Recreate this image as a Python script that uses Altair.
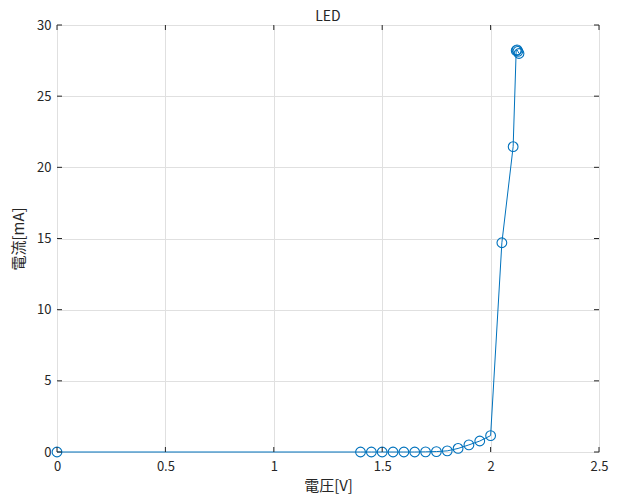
import altair as alt
import pandas as pd

voltage = [0.0, 1.40, 1.45, 1.50, 1.55, 1.60, 1.65, 1.70, 1.75, 1.80, 1.85,
           1.90, 1.95, 2.00, 2.052, 2.104, 2.118, 2.122, 2.126, 2.131]
current = [0.0, 0.0, 0.0, 0.0, 0.0, 0.0, 0.0, 0.01, 0.03, 0.08, 0.25,
           0.5, 0.77, 1.15, 14.7, 21.45, 28.2, 28.25, 28.15, 28.0]
x_ticks = [0, 0.5, 1, 1.5, 2, 2.5]
y_ticks = [0, 5, 10, 15, 20, 25, 30]

W, H = 542, 427
BLUE = "#0072BD"
FONT = "Noto Sans CJK JP"

df = pd.DataFrame({"v": voltage, "i": current, "k": list(range(len(voltage)))})
dx = pd.DataFrame({"t": x_ticks})
dy = pd.DataFrame({"t": y_ticks})

xs = alt.Scale(domain=[0, 2.5], nice=False, zero=False)
ys = alt.Scale(domain=[0, 30], nice=False, zero=False)

xax = alt.Axis(values=x_ticks, title="電圧[V]", grid=True, gridColor="#e0e0e0",
               domain=False, ticks=False, labelPadding=8, labelFontSize=13,
               titleFontSize=15, titleFontWeight="normal", titlePadding=5,
               labelColor="#262626", titleColor="#262626", labelFont=FONT, titleFont=FONT,
               labelFlush=False, format="~g")
yax = alt.Axis(values=y_ticks, title="電流[mA]", grid=True, gridColor="#e0e0e0",
               domain=False, ticks=False, labelPadding=6, labelFontSize=13,
               titleFontSize=15, titleFontWeight="normal", titlePadding=10,
               labelColor="#262626", titleColor="#262626", labelFont=FONT, titleFont=FONT,
               labelFlush=False, format="~g")

line = alt.Chart(df).mark_line(color=BLUE, strokeWidth=1).encode(
    x=alt.X("v:Q", scale=xs, axis=xax),
    y=alt.Y("i:Q", scale=ys, axis=yax),
    order="k:Q",
)
pts = alt.Chart(df).mark_point(shape="circle", filled=False, color=BLUE, size=95,
                               strokeWidth=1.1, opacity=1).encode(
    x=alt.X("v:Q", scale=xs),
    y=alt.Y("i:Q", scale=ys),
)

tick_len = 5
bx = alt.Chart(dx).mark_rule(color="#262626", strokeWidth=1).encode(
    x=alt.X("t:Q", scale=xs), y=alt.value(H), y2=alt.value(H - tick_len))
tx = alt.Chart(dx).mark_rule(color="#262626", strokeWidth=1).encode(
    x=alt.X("t:Q", scale=xs), y=alt.value(0), y2=alt.value(tick_len))
ly = alt.Chart(dy).mark_rule(color="#262626", strokeWidth=1).encode(
    y=alt.Y("t:Q", scale=ys), x=alt.value(0), x2=alt.value(tick_len))
ry = alt.Chart(dy).mark_rule(color="#262626", strokeWidth=1).encode(
    y=alt.Y("t:Q", scale=ys), x=alt.value(W), x2=alt.value(W - tick_len))

chart = alt.layer(line, pts, bx, tx, ly, ry).properties(
    width=W, height=H,
    title=alt.TitleParams("LED", fontSize=14, font=FONT, fontWeight="normal",
                          color="#262626", offset=2, dy=7),
    autosize=alt.AutoSizeParams(type="none"),
    padding={"left": 49, "top": 17, "right": 22, "bottom": 44},
).configure_view(stroke="#262626", strokeWidth=1).configure(background="white")

chart.save("out.html", embed_options={"renderer": "svg", "actions": False})
